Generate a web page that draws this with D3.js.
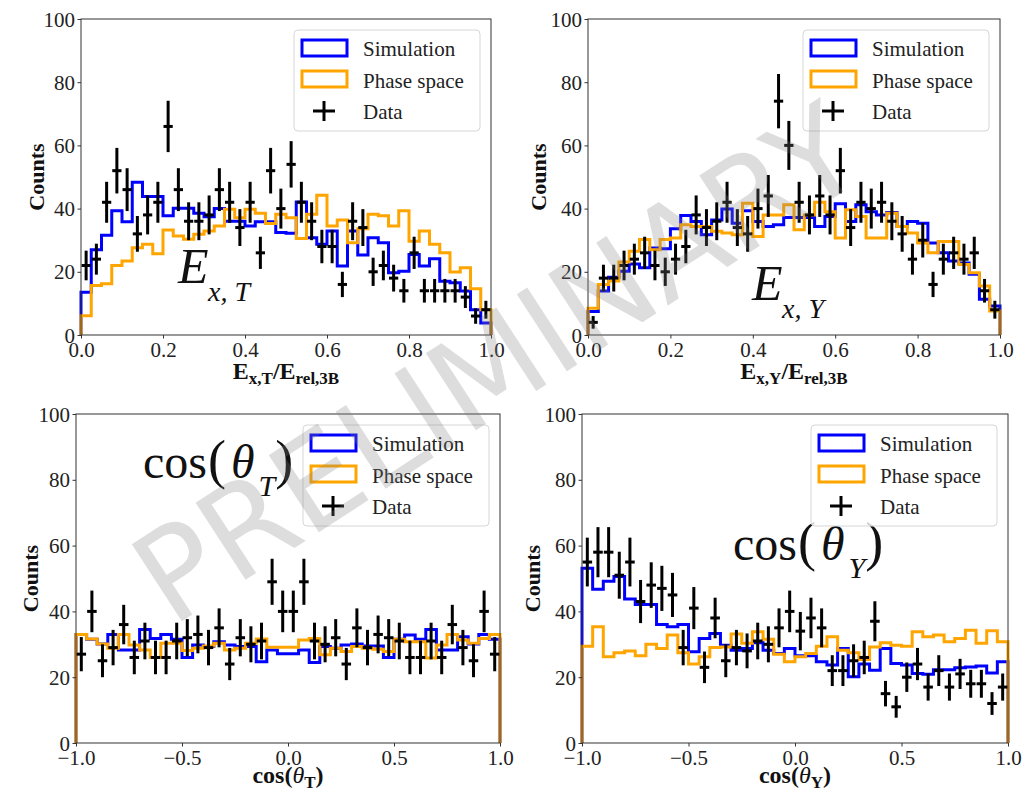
<!DOCTYPE html>
<html>
<head>
<meta charset="utf-8">
<script src="https://cdn.jsdelivr.net/npm/d3@7"></script>
<style>
  body { margin: 0; background: #fff; }
</style>
</head>
<body>
<svg id="chart" width="1026" height="794"></svg>
<script>
// bin edges (40 bins each)
const binsE = d3.range(41).map(i => i / 40)
const binsCos = d3.range(41).map(i => -1 + i / 20)

const ticksE = [0, 0.2, 0.4, 0.6, 0.8, 1.0]
const ticksCos = [-1.0, -0.5, 0.0, 0.5, 1.0]
const ticksY = [0, 20, 40, 60, 80, 100]

const legendLabels = ['Simulation', 'Phase space', 'Data']

// E_x,T / E_rel,3B
const simExT = [13.5, 27, 31.6, 39.3, 35.8, 48.3, 43.8, 43.8, 37.7, 40.1, 40.1, 38.5, 37.4, 40, 36, 36, 34.5, 35.8, 35.8, 32.4,
  32.2, 42.1, 30.8, 28.7, 32.9, 21.8, 32.9, 25.3, 30.8, 29.2, 19.7, 20.2, 25.5, 21.8, 24.1, 17, 16.5, 13.9, 8, 3.8]
const phsExT = [6.1, 15.7, 16.2, 22, 23.4, 27.6, 28.7, 25.7, 33.2, 31.3, 30.3, 31.9, 32.9, 34.5, 39.8, 37.1, 39.8, 38.5, 35.3, 38.2,
  37.1, 30.5, 38.2, 44.2, 34.5, 36.4, 29.2, 33.6, 38.2, 37.7, 34.5, 39.3, 29.7, 32.9, 28.7, 26, 19.9, 21.3, 14.6, 8]
const dataExT = [22, 24, 42, 52, 46, 32, 38, 42, 66, 46, 36, 36, 38, 46, 42, 34, 42, 26, 52, 40,
  54, 42, 36, 28, 28, 16, 36, 34, 20, 22, 18, 14, 26, 14, 14, 14, 14, 12, 6, 8]

// E_x,Y / E_rel,3B
const simExY = [7.4, 13.9, 18.3, 20.2, 22.5, 21.3, 27.5, 27.3, 33.6, 37.8, 35.9, 31.7, 36.4, 39.9, 35.4, 39.3, 35.9, 34.3, 34.9, 37.2,
  37.2, 37.2, 34.3, 37.5, 41.5, 35.9, 41.2, 39, 38, 38.8, 34.3, 35.9, 35.4, 29.1, 26, 23.4, 22.8, 19.2, 11.3, 9.2]
const phsExY = [8.5, 16, 17.1, 23.1, 26.5, 30.2, 27, 30.2, 30.7, 34.9, 34.3, 34.3, 32.8, 32.3, 31.7, 41.7, 31.2, 38, 38, 41.2,
  33.3, 38, 42, 39, 30.7, 39.6, 37.5, 30.7, 30.7, 38.5, 34.3, 32.3, 29.1, 26, 29.6, 29.6, 22.3, 19.7, 15.5, 7.6]
const dataExY = [4, 18, 18, 22, 24, 26, 22, 20, 24, 28, 38, 34, 36, 42, 34, 32, 40, 44, 74, 60,
  42, 38, 44, 38, 52, 34, 42, 40, 42, 36, 32, 24, 30, 16, 24, 26, 24, 26, 14, 8]

// cos(theta_T)
const simCosT = [33, 31.5, 30.1, 33, 28.3, 28.3, 34.5, 31.8, 33, 31.5, 26, 29.8, 29.3, 30.8, 29.8, 29.3, 29.3, 24.7, 28.3, 27.1,
  27.1, 28.3, 24.5, 29.3, 28.8, 29.8, 30.1, 29.5, 29.5, 26, 31.5, 32.8, 31.5, 34.5, 28.3, 28.3, 32.3, 30.1, 33, 31.5]
const phsCosT = [33, 31.6, 30.1, 28.8, 33, 29.8, 28.3, 26, 30.3, 30.3, 28.1, 28.8, 29.5, 30.3, 28.3, 28.8, 30.3, 31.6, 29.1, 29.1,
  29.1, 31.3, 31.8, 26.8, 28.8, 27.8, 29.3, 28.8, 28.5, 27.8, 31.5, 30.8, 30.8, 25.8, 29.8, 33, 31.3, 30.3, 31.8, 33]
const dataCosT = [27, 40, 25, 29, 36, 26, 31, 26, 26, 31, 32, 33, 29, 35, 24, 32, 30, 31, 49, 40,
  40, 49, 31, 30, 32, 24, 35, 29, 33, 32, 31, 26, 26, 31, 26, 36, 29, 25, 40, 27]

// cos(theta_Y)
const simCosY = [53.1, 46.7, 49.2, 50.6, 43.8, 42.1, 42.1, 36, 35.3, 36, 27.7, 31.8, 33.3, 29.7, 28.2, 28.7, 30.5, 28.2, 27.2, 28.7,
  26.5, 26.5, 24.7, 23.7, 28.7, 20.1, 24, 22.1, 28.7, 24.2, 23.7, 21.1, 20.9, 22.3, 22.3, 22.9, 23.1, 23.4, 21.3, 24.7]
const phsCosY = [29.4, 35.3, 26.2, 27.4, 28, 26.5, 30, 28.7, 32.8, 27.4, 24, 26.2, 29, 29.2, 33.1, 30.3, 33.8, 31.5, 27, 24.7,
  26.2, 27.2, 29.4, 32.3, 28.2, 27.4, 25.4, 29.2, 30.5, 29.7, 29.4, 33.8, 32.3, 32.8, 30.8, 31.8, 34.3, 30.3, 34.1, 30.8]
const dataCosY = [55, 58, 58, 51, 55, 43, 48, 47, 45, 29, 41, 23, 38, 25, 29, 28, 31, 30, 35, 40,
  34, 38, 35, 22, 22, 25, 26, 37, 15, 11, 20, 24, 17, 22, 17, 21, 18, 18, 12, 17]

const blue = 'blue'
const orange = 'orange'
const serif = '"Liberation Serif", "DejaVu Serif", serif'

const svg = d3.select('#chart')

const panels = [
  { edges: binsE, sim: simExT, phs: phsExT, data: dataExT, xDomain: [0, 1], xTicks: ticksE,
    box: { left: 81, right: 491, top: 19, bottom: 335 }, countsX: 44, labelY: 44,
    xlabel: [['E'], ['x,T', 'sub'], ['/E'], ['rel,3B', 'sub']],
    big: { kind: 'E', sub: 'x, T', dx: 97, dy: 264 } },
  { edges: binsE, sim: simExY, phs: phsExY, data: dataExY, xDomain: [0, 1], xTicks: ticksE,
    box: { left: 588, right: 1000, top: 19, bottom: 335 }, countsX: 546, labelY: 44,
    xlabel: [['E'], ['x,Y', 'sub'], ['/E'], ['rel,3B', 'sub']],
    big: { kind: 'E', sub: 'x, Y', dx: 164, dy: 281 } },
  { edges: binsCos, sim: simCosT, phs: phsCosT, data: dataCosT, xDomain: [-1, 1], xTicks: ticksCos,
    box: { left: 76, right: 500, top: 414, bottom: 743 }, countsX: 38, labelY: 40,
    xlabel: [['cos('], ['θ', 'it'], ['T', 'sub'], [')']],
    big: { kind: 'cos', sub: 'T', dx: 67, dy: 64 } },
  { edges: binsCos, sim: simCosY, phs: phsCosY, data: dataCosY, xDomain: [-1, 1], xTicks: ticksCos,
    box: { left: 582, right: 1008, top: 414, bottom: 743 }, countsX: 540, labelY: 40,
    xlabel: [['cos('], ['θ', 'it'], ['Y', 'sub'], [')']],
    big: { kind: 'cos', sub: 'Y', dx: 151, dy: 146 } }
]

function stepPoints(edges, vals) {
  const pts = [[edges[0], 0]]
  vals.forEach((v, i) => pts.push([edges[i], v]))
  pts.push([edges[vals.length], vals[vals.length - 1]])
  pts.push([edges[vals.length], 0])
  return pts
}

function drawPanel(p) {
  const g = svg.append('g')
  const b = p.box

  const x = d3.scaleLinear().domain(p.xDomain).range([b.left, b.right])
  const y = d3.scaleLinear().domain([0, 100]).range([b.bottom, b.top])

  const line = d3.line()
    .x(d => x(d[0]))
    .y(d => y(d[1]))
    .curve(d3.curveStepAfter)

  g.append('path')
    .attr('d', line(stepPoints(p.edges, p.sim)))
    .attr('fill', 'none')
    .attr('stroke', blue)
    .attr('stroke-width', 3)

  g.append('path')
    .attr('d', line(stepPoints(p.edges, p.phs)))
    .attr('fill', 'none')
    .attr('stroke', orange)
    .attr('stroke-width', 3)

  // data points with errors
  const pts = p.data.map((v, i) => ({
    c: (p.edges[i] + p.edges[i + 1]) / 2,
    hw: (p.edges[i + 1] - p.edges[i]) * 0.45,
    v: v
  }))

  g.selectAll('.yerr')
    .data(pts)
    .enter()
    .append('line')
    .attr('x1', d => x(d.c))
    .attr('x2', d => x(d.c))
    .attr('y1', d => y(d.v - Math.sqrt(d.v)))
    .attr('y2', d => y(d.v + Math.sqrt(d.v)))
    .attr('stroke', 'black')
    .attr('stroke-width', 3)

  g.selectAll('.xerr')
    .data(pts)
    .enter()
    .append('line')
    .attr('x1', d => x(d.c - d.hw))
    .attr('x2', d => x(d.c + d.hw))
    .attr('y1', d => y(d.v))
    .attr('y2', d => y(d.v))
    .attr('stroke', 'black')
    .attr('stroke-width', 3)

  // spines
  g.append('rect')
    .attr('x', b.left)
    .attr('y', b.top)
    .attr('width', b.right - b.left)
    .attr('height', b.bottom - b.top)
    .attr('fill', 'none')
    .attr('stroke', '#333')
    .attr('stroke-width', 1)

  const xAxis = d3.axisBottom(x)
    .tickValues(p.xTicks)
    .tickSize(3.5)
    .tickSizeOuter(0)
    .tickFormat(d3.format('.1f'))

  const gx = g.append('g')
    .attr('transform', 'translate(0,' + b.bottom + ')')
    .call(xAxis)
  gx.select('.domain').remove()
  gx.selectAll('line').attr('stroke', '#333')
  gx.selectAll('text')
    .attr('y', 22)
    .attr('dy', null)
    .attr('font-size', 21)
    .attr('font-family', serif)
    .attr('fill', '#222')

  const yAxis = d3.axisLeft(y)
    .tickValues(ticksY)
    .tickSize(3.5)
    .tickSizeOuter(0)

  const gy = g.append('g')
    .attr('transform', 'translate(' + b.left + ',0)')
    .call(yAxis)
  gy.select('.domain').remove()
  gy.selectAll('line').attr('stroke', '#333')
  gy.selectAll('text')
    .attr('x', -6)
    .attr('dy', '0.34em')
    .attr('font-size', 21)
    .attr('font-family', serif)
    .attr('fill', '#222')

  // y label
  g.append('text')
    .attr('transform', 'translate(' + p.countsX + ',' + (b.top + b.bottom) / 2 + ') rotate(-90)')
    .attr('text-anchor', 'middle')
    .attr('font-family', serif)
    .attr('font-size', 22)
    .attr('font-weight', 'bold')
    .attr('fill', '#111')
    .text('Counts')

  // x label
  const xl = g.append('text')
    .attr('x', (b.left + b.right) / 2)
    .attr('y', b.bottom + p.labelY)
    .attr('text-anchor', 'middle')
    .attr('font-family', serif)
    .attr('font-size', 24)
    .attr('font-weight', 'bold')
    .attr('fill', '#111')
  let shifted = false
  p.xlabel.forEach(part => {
    const t = xl.append('tspan').text(part[0])
    if (part[1] === 'sub') {
      t.attr('font-size', 17).attr('dy', shifted ? 0 : 5)
      shifted = true
    } else {
      if (shifted) t.attr('dy', -5)
      shifted = false
      if (part[1] === 'it') t.attr('font-style', 'italic').attr('font-weight', 'normal')
    }
  })

  // big annotation
  const bx = b.left + p.big.dx
  const by = b.top + p.big.dy
  if (p.big.kind === 'E') {
    g.append('text')
      .attr('x', bx)
      .attr('y', by)
      .attr('font-family', serif)
      .attr('font-size', 50)
      .attr('font-style', 'italic')
      .attr('fill', '#111')
      .text('E')
    g.append('text')
      .attr('x', bx + 30)
      .attr('y', by + 18)
      .attr('font-family', serif)
      .attr('font-size', 28)
      .attr('font-style', 'italic')
      .attr('fill', '#111')
      .text(p.big.sub)
  } else {
    const t = g.append('text')
      .attr('x', bx)
      .attr('y', by)
      .attr('font-family', serif)
      .attr('font-size', 48)
      .attr('fill', '#111')
    t.append('tspan').text('cos')
    t.append('tspan').text('(').attr('font-size', 54).attr('dx', 1)
    t.append('tspan').text('θ').attr('font-style', 'italic').attr('dx', 5)
    t.append('tspan').text(p.big.sub).attr('font-style', 'italic').attr('font-size', 30).attr('dy', 18).attr('dx', 4)
    t.append('tspan').text(')').attr('font-size', 54).attr('dy', -18)
  }

  // legend
  const lw = 186
  const lh = 101
  const lx = b.right - 11 - lw
  const ly = b.top + 11
  const lg = g.append('g').attr('transform', 'translate(' + lx + ',' + ly + ')')
  lg.append('rect')
    .attr('width', lw)
    .attr('height', lh)
    .attr('rx', 4)
    .attr('fill', 'white')
    .attr('fill-opacity', 0.8)
    .attr('stroke', '#d6d6d6')
    .attr('stroke-width', 1)
  ;[blue, orange].forEach((c, i) => {
    lg.append('rect')
      .attr('x', 8)
      .attr('y', 10 + i * 31)
      .attr('width', 45)
      .attr('height', 16)
      .attr('fill', 'none')
      .attr('stroke', c)
      .attr('stroke-width', 3)
  })
  lg.append('line')
    .attr('x1', 19).attr('x2', 41)
    .attr('y1', 81).attr('y2', 81)
    .attr('stroke', 'black').attr('stroke-width', 3)
  lg.append('line')
    .attr('x1', 30).attr('x2', 30)
    .attr('y1', 71).attr('y2', 91)
    .attr('stroke', 'black').attr('stroke-width', 3)
  lg.selectAll('.lt')
    .data(legendLabels)
    .enter()
    .append('text')
    .attr('x', 69)
    .attr('y', (d, i) => 26 + i * 31.5)
    .attr('font-family', serif)
    .attr('font-size', 21)
    .attr('fill', '#222')
    .text(d => d)
}

panels.forEach(drawPanel)

// watermark
svg.append('text')
  .attr('transform', 'translate(502,372) rotate(-33)')
  .attr('text-anchor', 'middle')
  .attr('dominant-baseline', 'middle')
  .attr('font-family', '"DejaVu Sans", sans-serif')
  .attr('font-size', 126)
  .attr('fill', '#808080')
  .attr('fill-opacity', 0.27)
  .text('PRELIMINARY')
</script>
</body>
</html>
